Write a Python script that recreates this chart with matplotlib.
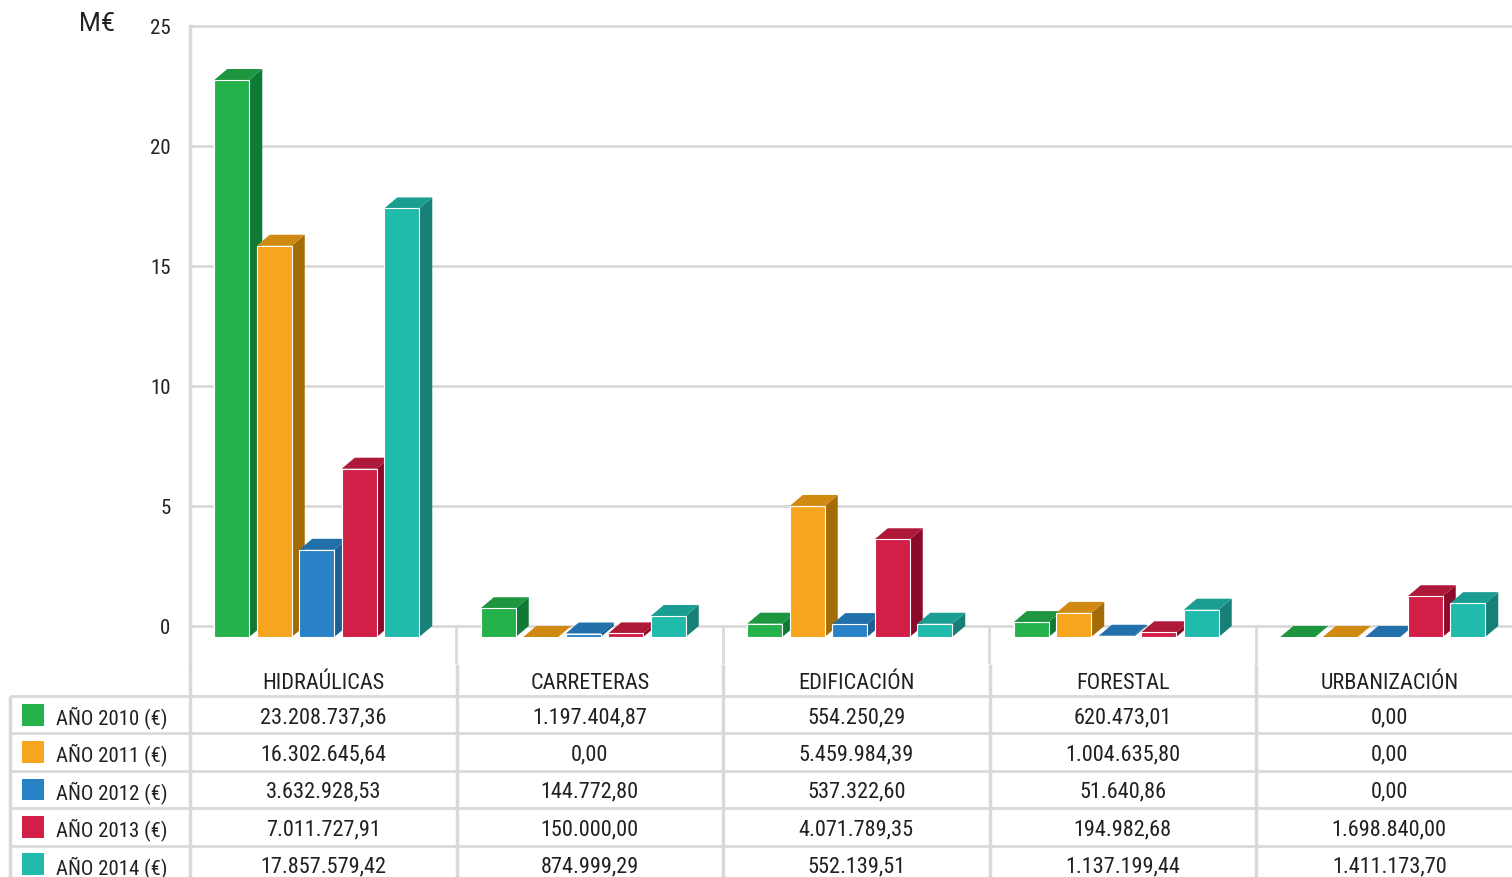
import matplotlib
matplotlib.use("Agg")
import matplotlib.pyplot as plt
from matplotlib.patches import Polygon, Rectangle

plt.rcParams['font.family'] = ['Roboto Condensed', 'DejaVu Sans']

categories = ['HIDRAÚLICAS', 'CARRETERAS', 'EDIFICACIÓN', 'FORESTAL', 'URBANIZACIÓN']
series_names = ['AÑO 2010 (€)', 'AÑO 2011 (€)', 'AÑO 2012 (€)', 'AÑO 2013 (€)', 'AÑO 2014 (€)']
y2010 = [23208737.36, 1197404.87, 554250.29, 620473.01, 0.00]
y2011 = [16302645.64, 0.00, 5459984.39, 1004635.80, 0.00]
y2012 = [3632928.53, 144772.80, 537322.60, 51640.86, 0.00]
y2013 = [7011727.91, 150000.00, 4071789.35, 194982.68, 1698840.00]
y2014 = [17857579.42, 874999.29, 552139.51, 1137199.44, 1411173.70]
series = [y2010, y2011, y2012, y2013, y2014]
y_ticks = [0, 5, 10, 15, 20, 25]

# front / top / side colours per year
front = ['#25B24B', '#F7A51E', '#2A82C6', '#D21F48', '#21BBAD']
top = ['#1E9640', '#D08A12', '#2270AA', '#AE1839', '#1A9E92']
side = ['#0E7A35', '#A46C06', '#1E5F93', '#8B0A2B', '#178077']
grid_c = '#D9D9D9'
text_c = '#231F20'


def es_format(v):
    s = f"{v:,.2f}"
    return s.replace(',', '_').replace('.', ',').replace('_', '.')


W, H = 1512, 878
fig = plt.figure(figsize=(W / 100, H / 100), dpi=100)

cat_px = 266.5           # width of one category in pixels
ppu = 24.0               # pixels per M€
left_px, top_px, head_px = 190, 27, 665
xmax = (W - left_px) / cat_px
ymin = -(head_px - 627) / ppu

ax = fig.add_axes([left_px / W, (H - head_px) / H, (W - left_px) / W, (head_px - top_px) / H])
ax.set_xlim(0, xmax)
ax.set_ylim(ymin, 25)
for s in ax.spines.values():
    s.set_visible(False)
ax.set_xticks([])
ax.set_yticks(y_ticks)
ax.set_yticklabels([str(t) for t in y_ticks], fontsize=15, color=text_c)
ax.tick_params(axis='y', length=0, pad=14)

for t in y_ticks:
    ax.axhline(t, color=grid_c, lw=2, zorder=0, clip_on=False)
ax.axvline(0, color=grid_c, lw=2.5, zorder=0, clip_on=False)
ax.vlines(range(1, len(categories)), ymin, 0, color=grid_c, lw=2, zorder=0)

fig.text(97 / W, 1 - 24 / H, 'M€', fontsize=18, color=text_c, ha='center', va='center',
         family=['Roboto', 'DejaVu Sans'])

# pseudo-3D bars
dx = 13 / cat_px
dy = 11 / ppu
slot = 42.5 / cat_px
bw = 35 / cat_px
for k in range(len(categories)):
    c = k + 0.5
    for i, vals in enumerate(series):
        v = vals[k] / 1e6
        xl = c - dx / 2 - (4 * slot + bw) / 2 + i * slot
        z = 3 + i
        ax.add_patch(Polygon([(xl + bw, -dy), (xl + bw + dx, 0), (xl + bw + dx, v), (xl + bw, v - dy)],
                             closed=True, fc=side[i], ec='none', zorder=z))
        ax.add_patch(Polygon([(xl, v - dy), (xl + bw, v - dy), (xl + bw + dx, v), (xl + dx, v)],
                             closed=True, fc=top[i], ec='none', zorder=z))
        if v > 0:
            ax.add_patch(Rectangle((xl, -dy), bw, v, fc=front[i], ec='white', lw=0.8, zorder=z + 0.5))

# data table
row_px = 37.4
first_row_px = 697
tab = fig.add_axes([0, 0, 1, (H - head_px) / H])
x_lo = -left_px / cat_px
head_rows = (first_row_px - head_px) / row_px
tab.set_xlim(x_lo, xmax)
tab.set_ylim((H - first_row_px) / row_px, -head_rows)
tab.axis('off')

table_left = x_lo + 10 / cat_px
n_rows = len(series)
tab.vlines(range(0, len(categories)), -head_rows, n_rows + 1, color=grid_c, lw=2.5)
tab.vlines(table_left, 0, n_rows + 1, color=grid_c, lw=2.5)
tab.hlines(range(0, n_rows + 1), table_left, xmax, color=grid_c, lw=2)

for k, name in enumerate(categories):
    tab.text(k + 0.5, -head_rows / 2 + 0.06, name, ha='center', va='center', fontsize=16,
             color=text_c)

sw = 22 / cat_px
for i, name in enumerate(series_names):
    yc = i + 0.5
    tab.add_patch(Rectangle((x_lo + 22 / cat_px, yc - 0.29), sw, 0.58, fc=front[i], ec='none'))
    tab.text(x_lo + 56 / cat_px, yc + 0.05, name, ha='left', va='center', fontsize=15, color=text_c)
    for k in range(len(categories)):
        tab.text(k + 0.5, yc + 0.05, es_format(series[i][k]), ha='center', va='center',
                 fontsize=16, color=text_c)

fig.savefig('out.png', dpi=100)
